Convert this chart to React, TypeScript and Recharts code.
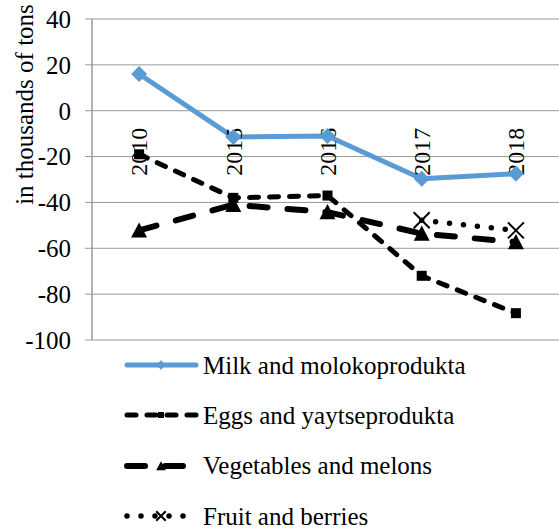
import React from 'react';
import { LineChart, Line, XAxis, YAxis, CartesianGrid, Legend, ReferenceDot } from 'recharts';

const years = ['2010', '2015', '2016', '2017', '2018'];
const milk = [16, -11.5, -11, -29.7, -27.5];
const eggs = [-19, -38, -37, -72, -88.3];
const vegetables = [-52.2, -41, -44.2, -53.6, -57.3];
const fruit: (number | null)[] = [null, null, null, -47.8, -52.2];
const yTicks = [40, 20, 0, -20, -40, -60, -80, -100];
const xBoundaries = [0, 1, 2, 3, 4, 5];
const yTitle = 'in thousands of tons';

const seriesDefs = [
  { key: 'milk', name: 'Milk and molokoprodukta', color: '#5B9BD5', width: 5, dash: undefined as string | undefined, cap: 'round', marker: 'diamond' },
  { key: 'eggs', name: 'Eggs and yaytseprodukta', color: '#000000', width: 5, dash: '9 11', cap: 'round', marker: 'square' },
  { key: 'veg', name: 'Vegetables and melons', color: '#000000', width: 6, dash: '18 20', cap: 'round', marker: 'triangle' },
  { key: 'fruit', name: 'Fruit and berries', color: '#000000', width: 5.5, dash: '0 14', cap: 'round', marker: 'x' },
];

const data = years.map((y, i) => ({
  pos: i + 0.5,
  year: y,
  milk: milk[i],
  eggs: eggs[i],
  veg: vegetables[i],
  fruit: fruit[i],
}));

const FONT = 'Liberation Serif, Times New Roman, serif';

function markerShape(kind: string, cx: number, cy: number, color: string, scale = 1, key?: string) {
  if (kind === 'diamond') {
    const r = 8 * scale;
    return <path key={key} d={`M${cx},${cy - r}L${cx + r},${cy}L${cx},${cy + r}L${cx - r},${cy}Z`} fill={color} />;
  }
  if (kind === 'square') {
    const r = 5 * scale;
    return <rect key={key} x={cx - r} y={cy - r} width={2 * r} height={2 * r} fill={color} />;
  }
  if (kind === 'triangle') {
    const r = 8 * scale;
    return <path key={key} d={`M${cx},${cy - r}L${cx + r},${cy + r * 0.9}L${cx - r},${cy + r * 0.9}Z`} fill={color} />;
  }
  const r = 8 * scale;
  return (
    <path key={key} d={`M${cx - r},${cy - r}L${cx + r},${cy + r}M${cx + r},${cy - r}L${cx - r},${cy + r}`} stroke={color} strokeWidth={2} fill="none" />
  );
}

const makeDot = (kind: string, color: string) => (p: any) => {
  const key = `${kind}-${p.index}`;
  if (p.cx == null || p.cy == null || p.value == null || (Array.isArray(p.value) && p.value[1] == null)) return <g key={key} />;
  return markerShape(kind, p.cx, p.cy, color, 1, key);
};

const YearLabel = ({ viewBox, text }: any) => {
  const x = viewBox.x + (viewBox.width || 0) / 2;
  const y = viewBox.y + (viewBox.height || 0) / 2 + 17;
  return (
    <text x={x} y={y} dy="0.35em" transform={`rotate(-90, ${x}, ${y})`} textAnchor="end" style={{ fontFamily: FONT, fontSize: 24 }} fill="#000">
      {text}
    </text>
  );
};

const YTitle = ({ viewBox }: any) => {
  const x = viewBox.x + 33;
  const y = viewBox.y + viewBox.height / 2 - 75;
  return (
    <text x={x} y={y} transform={`rotate(-90, ${x}, ${y})`} textAnchor="middle" style={{ fontFamily: FONT, fontSize: 25 }} fill="#000">
      {yTitle}
    </text>
  );
};

const renderLegend = () => (
  <div style={{ fontFamily: FONT, fontSize: 25, color: '#000' }}>
    {seriesDefs.map((s) => (
      <div key={s.key} style={{ display: 'flex', alignItems: 'center', height: 50.3 }}>
        <svg width={79} height={24} style={{ display: 'block' }}>
          <line x1={3} y1={12} x2={72} y2={12} stroke={s.color} strokeWidth={s.width} strokeDasharray={s.dash} strokeLinecap={s.cap as any} />
          {markerShape(s.marker, 37, 12, s.color, 0.6)}
        </svg>
        <span style={{ lineHeight: 1 }}>{s.name}</span>
      </div>
    ))}
  </div>
);

export default function App() {
  return (
    <div style={{ position: 'absolute', left: 0, top: 0, width: 559, height: 531, overflow: 'hidden', background: '#fff', fontFamily: FONT }}>
      <LineChart width={570} height={531} data={data} margin={{ top: 19, right: 7, left: 0, bottom: 191 }} style={{ fontFamily: FONT }}>
        <CartesianGrid stroke="#999999" strokeWidth={1} />
        <XAxis type="number" dataKey="pos" domain={[0, 5]} ticks={xBoundaries} tick={false} tickLine={false} axisLine={false} height={0} />
        <YAxis
          type="number"
          domain={[-100, 40]}
          ticks={yTicks}
          interval={0}
          width={92}
          tickSize={7}
          tickMargin={14}
          axisLine={{ stroke: '#999999' }}
          tickLine={{ stroke: '#999999' }}
          tick={{ style: { fontFamily: FONT, fontSize: 25 }, fill: '#000' }}
          label={{ content: (props: any) => <YTitle {...props} /> }}
        />
        {data.map((d) => (
          <ReferenceDot
            key={d.year}
            x={d.pos}
            y={0}
            r={1}
            fill="none"
            stroke="none"
            ifOverflow="visible"
            label={{ content: (props: any) => <YearLabel {...props} text={d.year} /> }}
          />
        ))}
        {seriesDefs.map((s) => (
          <Line
            key={s.key}
            type="linear"
            dataKey={s.key}
            name={s.name}
            stroke={s.color}
            strokeWidth={s.width}
            strokeDasharray={s.dash}
            strokeLinecap={s.cap as any}
            strokeLinejoin="round"
            dot={makeDot(s.marker, s.color)}
            activeDot={false}
            connectNulls={false}
            isAnimationActive={false}
          />
        ))}
        <Legend
          layout="vertical"
          align="center"
          verticalAlign="middle"
          content={renderLegend}
          wrapperStyle={{ top: 340, left: 124, width: 435 }}
        />
      </LineChart>
    </div>
  );
}
